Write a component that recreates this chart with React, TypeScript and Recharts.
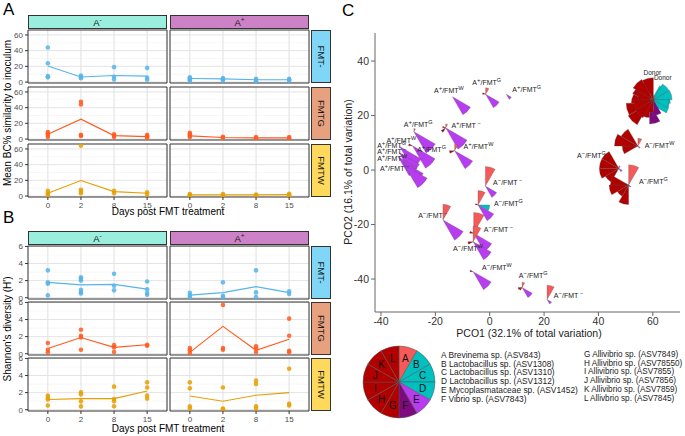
import React from 'react';
import {
  ScatterChart, Scatter, XAxis, YAxis, CartesianGrid, ReferenceArea, PieChart, Pie, Cell
} from 'recharts';

const days = ['0', '2', '8', '15'];

// A: mean BC% similarity to inoculum (values per day)
const bcNegFmtNeg = [[44, 24, 7.5, 6], [8.4, 6.3, 5], [19, 6.7, 3.4], [18, 5.5, 3]];
const bcNegFmtNegMean = [20.5, 6.5, 8.4, 7.5];
const bcPosFmtNeg = [[6, 4.5, 3, 2], [5, 3.5, 2], [4, 2.5, 1], [4, 3, 2]];
const bcPosFmtNegMean = [4.5, 4, 3, 3];
const bcNegFmtG = [[8.9, 7.1, 5.3, 2.7], [47.5, 44, 5.3, 4], [6.2, 4.4, 2.7], [5.3, 3.6, 1.3]];
const bcNegFmtGMean = [6.2, 25.3, 4.4, 3.1];
const bcPosFmtG = [[8, 6, 4, 2.5], [3, 1.5], [2.5, 1], [2.5, 1]];
const bcPosFmtGMean = [4, 2, 1.5, 1.5];
const bcNegFmtW = [[6.6, 3.5, 1.3], [64, 8, 5.7, 3.5], [6.6, 3.5], [4.8, 2]];
const bcNegFmtWMean = [3.5, 19.8, 5.7, 3.5];
const bcPosFmtW = [[2.5, 1.5, 0.8], [2.5, 1.2], [2, 0.8], [3, 1.5, 0.8]];
const bcPosFmtWMean = [1.5, 1.5, 1.5, 1.8];

// B: Shannon's diversity
const hNegFmtNeg = [[3.2, 1.8, 1.64, 0.27], [2.4, 2.2, 2.0, 0.94, 0.66, 0.5], [2.8, 1.4, 0.86], [1.9, 0.98, 0.55, 0.35]];
const hNegFmtNegMean = [1.8, 1.5, 1.56, 1.0];
const hPosFmtNeg = [[0.58, 0.27, 0.04], [1.8, 0.23, 0.04], [3.2, 0.62, 0.08], [0.74, 0.43]];
const hPosFmtNegMean = [0.3, 0.6, 1.3, 0.6];
const hNegFmtG = [[1.25, 0.47, 0.16], [2.8, 2.1, 1.9, 0.47], [1.0, 0.74, 0.2], [1.05, 0.94]];
const hNegFmtGMean = [0.6, 1.9, 0.74, 1.05];
const hPosFmtG = [[0.66, 0.4, 0.08], [5.7, 0.66, 0.47], [0.86, 0.6, 0.2], [4.1, 2.1, 0.35, 0.16]];
const hPosFmtGMean = [0.16, 3.2, 0.4, 1.7];
const hNegFmtW = [[1.65, 1.4, 1.2, 0.5], [2.05, 1.8, 0.98, 0.39], [2.7, 1.26, 1.0, 0.4], [3.2, 2.6, 1.65, 1.3]];
const hNegFmtWMean = [1.2, 1.3, 1.3, 2.2];
const hPosFmtW = [[3.2, 2.5, 0.4, 0.15], [2.6, 0.15, 0.05], [3.4, 3.0, 0.4, 0.15], [4.8, 0.7, 0.5]];
const hPosFmtWMean = [1.6, 1.0, 1.7, 2.0];

// C: PCO glyphs, segment abundances A..L
const glyphX = [-13.7, -1.5, 6.1, -16.2, -12.9, -27.9, -28.4, -33.1, -33.3, -33.7, -31.9, -31.3, -1.6, -4.3, -17.2, -5.9, -6.1, -6.1, 11.9, 21.1, 58.8, 60.2, 54.5, 47.5, 51.1];
const glyphY = [26.9, 27.8, 27.8, 15.5, 7.1, 14.1, 8.9, 8.6, 6.4, 4.9, 3.0, 1.8, -5.9, -12.8, -18.3, -23.2, -26.3, -37.3, -43.1, -47.5, 24.5, 25.8, 8.8, 0.6, -5.5];
const glyphAbund = [
  [0, 0, 0, 0, 0.8, 0, 0, 0, 0, 0, 0, 0],
  [0.25, 0, 0, 0, 0.6, 0, 0, 0, 0, 0.12, 0, 0],
  [0, 0, 0, 0, 0.22, 0, 0, 0, 0, 0, 0, 0],
  [0.15, 0, 0, 0, 0.95, 0, 0, 0.2, 0, 0.12, 0, 0],
  [0.25, 0, 0, 0, 0.8, 0, 0, 0, 0.2, 0, 0, 0],
  [0.12, 0, 0, 0, 0.95, 0, 0, 0, 0, 0, 0, 0],
  [0, 0, 0, 0, 1.0, 0, 0, 0, 0, 0.15, 0, 0],
  [0, 0, 0, 0, 0.95, 0, 0, 0, 0, 0, 0, 0],
  [0, 0, 0, 0, 0.9, 0, 0, 0, 0, 0, 0, 0],
  [0, 0, 0, 0, 0.85, 0, 0, 0, 0, 0, 0, 0],
  [0, 0, 0, 0, 0.9, 0, 0, 0, 0, 0, 0, 0],
  [0, 0, 0, 0, 1.0, 0, 0, 0, 0, 0, 0, 0],
  [0.75, 0, 0, 0, 0.5, 0, 0, 0, 0, 0, 0, 0],
  [0.55, 0, 0, 0.45, 0.7, 0, 0, 0, 0, 0.1, 0, 0],
  [0.6, 0, 0, 0, 0.9, 0, 0, 0, 0, 0, 0, 0],
  [0.8, 0, 0, 0, 0.8, 0, 0, 0, 0, 0.15, 0, 0],
  [0.6, 0, 0, 0, 0.8, 0, 0, 0, 0.2, 0, 0, 0],
  [0, 0, 0, 0, 0.8, 0, 0, 0, 0, 0.12, 0, 0],
  [0.2, 0, 0, 0, 0.45, 0, 0, 0.12, 0.15, 0, 0, 0],
  [0.55, 0, 0, 0, 0.2, 0, 0, 0, 0, 0, 0, 0],
  [0.1, 0.78, 0.8, 0.75, 0.1, 0.8, 0.55, 0.95, 0.9, 0.7, 0.75, 0.8],
  [0.15, 0.7, 0.72, 0.6, 0.05, 0.6, 0.5, 0.8, 0.75, 0.6, 0.9, 0.85],
  [0.3, 0, 0, 0, 0.1, 0, 0, 0, 0.6, 0.9, 0.75, 0],
  [0.1, 0, 0, 0, 0.15, 0, 0, 0.6, 0.75, 0.75, 0.75, 0],
  [0.78, 0, 0, 0, 0.1, 0, 0.75, 0.5, 0.75, 0.7, 0, 0],
];

// C: sample labels
const labelX = [-20.5, -6.4, 8.3, -14.1, -31.6, -9.6, -26.7, -38, -41.4, -41.4, -41.4, -40.4, 1.2, 1.6, -26.3, -2.2, -13.5, -2.8, 10.7, 23.6, 57, 32.1, 54.9];
const labelY = [28.1, 31.2, 28.5, 15.3, 15.7, 7.6, 6.7, 10, 8.0, 5.9, 3.4, -0.3, -5.5, -13.2, -17.7, -22.6, -29.6, -36.7, -39.5, -47.1, 8.0, 4.5, -5.2];
const labelAb = ['+', '+', '+', '+', '+', '+', '+', '+', '+', '+', '+', '+', '−', '−', '−', '−', '−', '−', '−', '−', '−', '−', '−'];
const labelFmt = ['W', 'G', 'G', ' −', 'G', 'W', 'G', 'W', 'G', ' −', 'W', ' −', ' −', 'G', ' −', ' −', 'W', 'W', 'G', ' −', 'W', 'G', 'G'];
const donorX = [56.6, 60.4];
const donorY = [34.9, 33.0];

const segLetters = ['A', 'B', 'C', 'D', 'E', 'F', 'G', 'H', 'I', 'J', 'K', 'L'];
const segColors = ['#f55a5a', '#00c0c0', '#00c0c0', '#00c0c0', '#b83cf0', '#7e0a80', '#b00000', '#b00000', '#b00000', '#b00000', '#b00000', '#b00000'];
const legendLeft = [
  'A Brevinema sp. (ASV843)', 'B Lactobacillus sp. (ASV1308)', 'C Lactobacillus sp. (ASV1310)',
  'D Lactobacillus sp. (ASV1312)', 'E Mycoplasmataceae sp. (ASV1452)', 'F Vibrio sp. (ASV7843)',
];
const legendRight = [
  'G Allivibrio sp. (ASV7849)', 'H Allivibrio sp. (ASV78550)', 'I Allivibrio sp. (ASV7855)',
  'J Allivibrio sp. (ASV7856)', 'K Allivibrio sp. (ASV7859)', 'L Allivbrio sp. (ASV7845)',
];

const FMT_COLORS = ['#56b4e9', '#ff5a1f', '#e69f00'];
const FONT = '"Liberation Sans", Arial, sans-serif';
const COL_X = [28, 170];
const COL_W = 139;
const ROW_H = 53;
const R_MAX = 26;

function Facet({ x, y, showY, showX, values, means, color, domain, ticks, minor }: any) {
  const pts = values.flatMap((vals: number[], i: number) => vals.map((v) => ({ d: i, v })));
  const line = means.map((v: number, i: number) => ({ d: i, v }));
  const yW = showY ? 26 : 0;
  const xH = showX ? 14 : 0;
  return (
    <div style={{ position: 'absolute', left: x - yW, top: y }}>
      <ScatterChart width={COL_W + yW} height={ROW_H + xH} margin={{ top: 0, right: 0, bottom: 0, left: 0 }}>
        <CartesianGrid horizontalValues={minor} verticalValues={[]} stroke="#f2f2f2" strokeWidth={0.6} />
        <CartesianGrid horizontalValues={ticks} verticalValues={[0, 1, 2, 3]} stroke="#e4e4e4" strokeWidth={1} />
        <XAxis type="number" dataKey="d" domain={[-0.6, 3.6]} ticks={[0, 1, 2, 3]} interval={0}
          tickFormatter={(i: number) => days[i]} hide={!showX} height={xH} axisLine={false}
          tickSize={3} tick={{ fontSize: 8, fill: '#4d4d4d' }} tickLine={{ stroke: '#333' }} allowDataOverflow />
        <YAxis type="number" dataKey="v" domain={domain} ticks={ticks} interval={0} hide={!showY} width={yW}
          axisLine={false} tickSize={3} tick={{ fontSize: 8, fill: '#4d4d4d' }} tickLine={{ stroke: '#333' }} allowDataOverflow />
        <Scatter data={line} line={{ stroke: color, strokeWidth: 1.1 }} lineType="joint" shape={() => <g />} isAnimationActive={false} />
        <Scatter data={pts} shape={(p: any) => <circle cx={p.cx} cy={p.cy} r={2.3} fill={color} fillOpacity={0.85} />} isAnimationActive={false} />
        <ReferenceArea x1={-0.6} x2={3.6} y1={domain[0]} y2={domain[1]} fill="none" stroke="#333" strokeWidth={1} ifOverflow="visible" />
      </ScatterChart>
    </div>
  );
}

function Sup({ s }: { s: string }) {
  return <span style={{ fontSize: '0.7em', verticalAlign: 'super', lineHeight: 0 }}>{s}</span>;
}

function TopStrips({ y }: { y: number }) {
  const bg = ['#9aeedd', '#cd82c8'];
  const sign = ['-', '+'];
  return (
    <>
      {COL_X.map((cx, i) => (
        <div key={i} style={{
          position: 'absolute', left: cx, top: y, width: COL_W - 2, height: 12, background: bg[i],
          border: '1px solid #333', fontSize: 9.5, textAlign: 'center', lineHeight: '13px', color: '#1a1a1a',
        }}>A<Sup s={sign[i]} /></div>
      ))}
    </>
  );
}

function SideStrips({ rows }: { rows: number[] }) {
  const bg = ['#7fd6f7', '#e8a17f', '#fed95b'];
  const names = ['FMT-', 'FMTG', 'FMTW'];
  return (
    <>
      {rows.map((ry, i) => (
        <div key={i} style={{
          position: 'absolute', left: 311, top: ry, width: 18, height: ROW_H - 2, background: bg[i],
          border: '1px solid #333', display: 'flex', alignItems: 'center', justifyContent: 'center',
        }}>
          <span style={{ transform: 'rotate(90deg)', fontSize: 9.5, whiteSpace: 'nowrap', color: '#1a1a1a' }}>{names[i]}</span>
        </div>
      ))}
    </>
  );
}

function FacetGrid({ top, rows, sets, domain, ticks, minor }: any) {
  return (
    <>
      <TopStrips y={top} />
      <SideStrips rows={rows} />
      {rows.map((ry: number, r: number) => COL_X.map((cx, c) => (
        <Facet key={`${r}-${c}`} x={cx} y={ry} showY={c === 0} showX={r === 2}
          values={sets[r][c][0]} means={sets[r][c][1]} color={FMT_COLORS[r]}
          domain={domain} ticks={ticks} minor={minor} />
      )))}
    </>
  );
}

function Glyph(p: any) {
  const { cx, cy, payload } = p;
  const rad = Math.PI / 180;
  return (
    <g>
      {payload.ab.map((v: number, i: number) => {
        if (!v) return null;
        const r = v * R_MAX;
        const a1 = i * 30 * rad;
        const a2 = (i + 1) * 30 * rad;
        const x1 = cx + r * Math.sin(a1), y1 = cy - r * Math.cos(a1);
        const x2 = cx + r * Math.sin(a2), y2 = cy - r * Math.cos(a2);
        return <path key={i} d={`M${cx},${cy}L${x1},${y1}A${r},${r} 0 0 1 ${x2},${y2}Z`} fill={segColors[i]} stroke="#555" strokeWidth={0.3} />;
      })}
    </g>
  );
}

function PcoLabel(p: any) {
  const { cx, cy, payload } = p;
  if (payload.donor) {
    return <text x={cx} y={cy} fontSize={6.5} fill="#222" fontFamily={FONT}>Donor</text>;
  }
  return (
    <text x={cx} y={cy} fontSize={7} fill="#222" fontFamily={FONT}>
      A<tspan dy={-3} fontSize={6}>{payload.ab}</tspan><tspan dy={3}>/FMT</tspan><tspan dy={-3} fontSize={5.5}>{payload.fmt}</tspan>
    </text>
  );
}

function PcoPanel() {
  const glyphs = glyphX.map((x, i) => ({ x, y: glyphY[i], ab: glyphAbund[i] }));
  const labels = labelX.map((x, i) => ({ x, y: labelY[i], ab: labelAb[i], fmt: labelFmt[i] }))
    .concat(donorX.map((x, i) => ({ x, y: donorY[i], donor: true } as any)));
  return (
    <div style={{ position: 'absolute', left: 330, top: 20 }}>
      <ScatterChart width={355} height={320} margin={{ top: 13, right: 5, left: 0, bottom: 0 }}>
        <XAxis type="number" dataKey="x" domain={[-42.2, 70]} ticks={[-40, -20, 0, 20, 40, 60]} interval={0}
          height={28} stroke="#666" tickSize={4} tick={{ fontSize: 10.5, fill: '#333' }} allowDataOverflow />
        <YAxis type="number" dataKey="y" domain={[-52.1, 50.3]} ticks={[-40, -20, 0, 20, 40]} interval={0}
          width={45} stroke="#666" tickSize={4} tick={{ fontSize: 10.5, fill: '#333' }} allowDataOverflow />
        <Scatter data={glyphs} shape={(p: any) => <Glyph {...p} />} isAnimationActive={false} />
        <Scatter data={labels} shape={(p: any) => <PcoLabel {...p} />} isAnimationActive={false} />
      </ScatterChart>
    </div>
  );
}

function PieLegend() {
  const slices = segLetters.map((name) => ({ name, value: 1 }));
  const rad = Math.PI / 180;
  const renderLetter = (p: any) => {
    const r = p.outerRadius * 0.68;
    const x = p.cx + r * Math.cos(-p.midAngle * rad);
    const y = p.cy + r * Math.sin(-p.midAngle * rad);
    return <text x={x} y={y} textAnchor="middle" dominantBaseline="central" fontSize={10} fill="#111" fontFamily={FONT}>{p.name}</text>;
  };
  return (
    <div style={{ position: 'absolute', left: 354, top: 337 }}>
      <PieChart width={80} height={80}>
        <Pie data={slices} dataKey="value" cx={40} cy={40} outerRadius={36} startAngle={90} endAngle={-270}
          stroke="#555" strokeWidth={0.5} label={renderLetter} labelLine={false} isAnimationActive={false}>
          {slices.map((s, i) => <Cell key={s.name} fill={segColors[i]} />)}
        </Pie>
      </PieChart>
    </div>
  );
}

const txt = (extra: React.CSSProperties): React.CSSProperties => ({ position: 'absolute', whiteSpace: 'nowrap', ...extra });

export default function App() {
  const bcSets = [
    [[bcNegFmtNeg, bcNegFmtNegMean], [bcPosFmtNeg, bcPosFmtNegMean]],
    [[bcNegFmtG, bcNegFmtGMean], [bcPosFmtG, bcPosFmtGMean]],
    [[bcNegFmtW, bcNegFmtWMean], [bcPosFmtW, bcPosFmtWMean]],
  ];
  const hSets = [
    [[hNegFmtNeg, hNegFmtNegMean], [hPosFmtNeg, hPosFmtNegMean]],
    [[hNegFmtG, hNegFmtGMean], [hPosFmtG, hPosFmtGMean]],
    [[hNegFmtW, hNegFmtWMean], [hPosFmtW, hPosFmtWMean]],
  ];
  return (
    <div style={{ position: 'relative', width: 685, height: 436, background: '#fff', fontFamily: FONT, overflow: 'hidden' }}>
      <style>{'body{margin:0} svg{overflow:visible}'}</style>
      <div style={txt({ left: 3, top: 0, fontSize: 17 })}>A</div>
      <div style={txt({ left: 3, top: 208, fontSize: 17 })}>B</div>
      <div style={txt({ left: 342, top: 1, fontSize: 17 })}>C</div>

      <FacetGrid top={15} rows={[30, 87, 144]} sets={bcSets} domain={[-1.2, 66.3]} ticks={[0, 20, 40, 60]} minor={[10, 30, 50]} />
      <div style={txt({ left: 168, top: 206, fontSize: 10, transform: 'translateX(-50%)' })}>Days post FMT treatment</div>
      <div style={txt({ left: 7, top: 113, fontSize: 10, transform: 'translate(-50%,-50%) rotate(-90deg)' })}>Mean BC% similarity to inoculum</div>

      <FacetGrid top={231} rows={[246, 302, 358]} sets={hSets} domain={[-0.15, 6.05]} ticks={[0, 2, 4, 6]} minor={[1, 3, 5]} />
      <div style={txt({ left: 168, top: 423, fontSize: 10, transform: 'translateX(-50%)' })}>Days post FMT treatment</div>
      <div style={txt({ left: 7, top: 329, fontSize: 10, transform: 'translate(-50%,-50%) rotate(-90deg)' })}>Shannon's diversity (H')</div>

      <PcoPanel />
      <div style={txt({ left: 529, top: 327, fontSize: 10.5, color: '#222', transform: 'translateX(-50%)' })}>PCO1 (32.1% of total variation)</div>
      <div style={txt({ left: 348, top: 172, fontSize: 10.5, color: '#222', transform: 'translate(-50%,-50%) rotate(-90deg)' })}>PCO2 (16.1% of total variation)</div>

      <PieLegend />
      {legendLeft.map((t, i) => (
        <div key={t} style={txt({ left: 441, top: 350 + i * 8.7, fontSize: 8.4, color: '#222', lineHeight: '10px' })}>{t}</div>
      ))}
      {legendRight.map((t, i) => (
        <div key={t} style={txt({ left: 584, top: 350 + i * 8.7, fontSize: 8.2, color: '#222', lineHeight: '10px' })}>{t}</div>
      ))}
    </div>
  );
}
